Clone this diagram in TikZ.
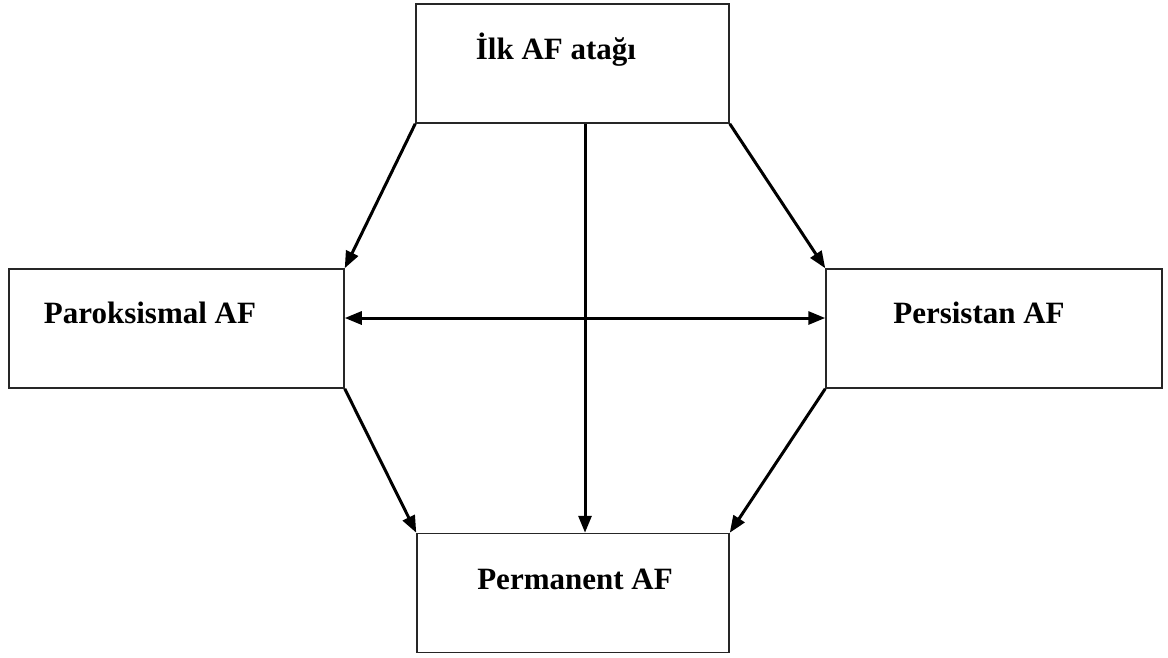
\documentclass[tikz,border=0pt]{standalone}
\usepackage{fontspec}
\setmainfont{Liberation Serif}
\usetikzlibrary{arrows.meta}
\begin{document}
\begin{tikzpicture}[x=1pt,y=-1pt,
  box/.style={draw=black!85,line width=1.5pt,minimum width=#1,minimum height=119pt,inner sep=0pt},
  lbl/.style={font=\bfseries\fontsize{31}{36}\selectfont,inner sep=0pt},
  arr/.style={line width=3pt,-{Triangle[length=17pt,width=13pt]}}]
\useasboundingbox (0,0) rectangle (1168,657);
\node[box=313pt] (top) at (572.5,63.5) {};
\node[box=335pt] (left) at (176.5,328.5) {};
\node[box=336pt] (right) at (994,328.5) {};
\node[box=312pt] (bot) at (573,593) {};
\node[lbl] (ttop) at (556,50) {İlk AF atağı};
\node[lbl] (tleft) at (150,313) {Paroksismal AF};
\node[lbl] (tright) at (979,313) {Persistan AF};
\node[lbl] (tbot) at (575,579) {Permanent AF};
\draw[arr] (top.south west) -- (left.north east);
\draw[arr] (top.south east) -- (right.north west);
\draw[arr] (left.south east) -- (bot.north west);
\draw[arr] (right.south west) -- (bot.north east);
\draw[arr] ([xshift=12.5pt]top.south) -- ([xshift=12.5pt]top.south |- bot.north);
\draw[arr,{Triangle[length=17pt,width=13pt]}-{Triangle[length=17pt,width=13pt]}] ([yshift=10.5pt]left.east) -- ([yshift=10.5pt]right.west);
\end{tikzpicture}
\end{document}
